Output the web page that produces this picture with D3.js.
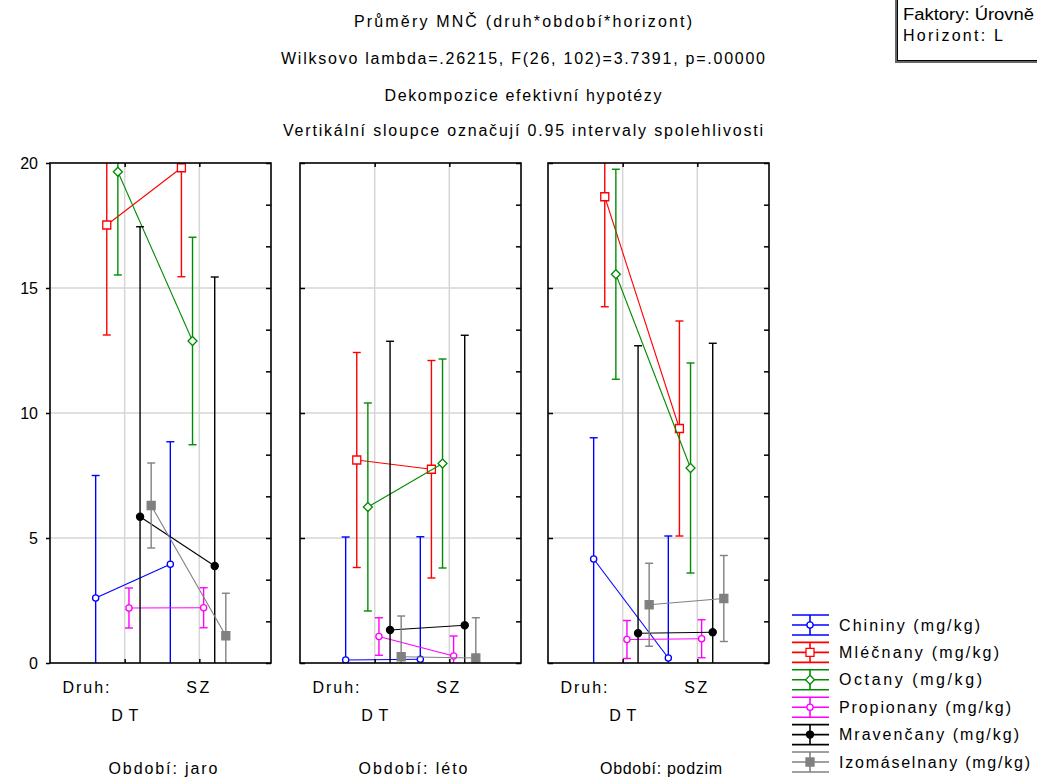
<!DOCTYPE html>
<html><head><meta charset="utf-8">
<script src="https://cdn.jsdelivr.net/npm/d3@7"></script>
<style>
body{margin:0;background:#fff}
svg{display:block}
text{font-family:"Liberation Sans",Arial,sans-serif;fill:#000;font-size:16px}
</style>
</head><body><svg id="c" width="1037" height="778"></svg>
<script>
// ---------- data ----------
const periods = ["jaro", "léto", "podzim"];
const periodLabels = ["Období: jaro", "Období: léto", "Období: podzim"];
const categories = ["DT", "SZ"];
const seriesNames = ["Chininy (mg/kg)", "Mléčnany (mg/kg)", "Octany (mg/kg)", "Propionany (mg/kg)", "Mravenčany (mg/kg)", "Izomáselnany (mg/kg)"];
// means [period][category]
const chininyMean      = [[2.60, 3.95], [0.12, 0.15], [4.16, 0.20]];
const mlecnanyMean     = [[17.52, 19.81], [8.12, 7.75], [18.65, 9.38]];
const octanyMean       = [[19.65, 12.88], [6.24, 7.98], [15.55, 7.80]];
const propionanyMean   = [[2.20, 2.21], [1.06, 0.28], [0.94, 0.97]];
const mravencanyMean   = [[5.85, 3.88], [1.32, 1.51], [1.19, 1.23]];
const izomaselnanyMean = [[6.30, 1.09], [0.25, 0.20], [2.33, 2.58]];
// 0.95 CI half-widths [period][category]
const chininyCI      = [[4.90, 4.90], [4.92, 4.90], [4.85, 4.88]];
const mlecnanyCI     = [[4.40, 4.36], [4.30, 4.35], [4.40, 4.30]];
const octanyCI       = [[4.13, 4.15], [4.16, 4.18], [4.20, 4.20]];
const propionanyCI   = [[0.80, 0.80], [0.75, 0.80], [0.76, 0.76]];
const mravencanyCI   = [[11.60, 11.56], [11.55, 11.60], [11.50, 11.56]];
const izomaselnanyCI = [[1.70, 1.70], [1.63, 1.61], [1.66, 1.72]];
const yTicks = [0, 5, 10, 15, 20];
const titleLines = [
  "Průměry MNČ (druh*období*horizont)",
  "Wilksovo lambda=.26215, F(26, 102)=3.7391, p=.00000",
  "Dekompozice efektivní hypotézy",
  "Vertikální sloupce označují 0.95 intervaly spolehlivosti"
];
const boxLines = ["Faktory: Úrovně", "Horizont: L"];
const factorLabel = "Druh:";

// ---------- styles ----------
const seriesStyle = [
  {color: "#0000ff", marker: "circle", fill: "#fff"},
  {color: "#ff0000", marker: "square", fill: "#fff"},
  {color: "#008c00", marker: "diamond", fill: "#fff"},
  {color: "#ff00ff", marker: "circle", fill: "#fff"},
  {color: "#000000", marker: "circleBig", fill: "#000"},
  {color: "#808080", marker: "squareBig", fill: "#808080"}
];
const means = [chininyMean, mlecnanyMean, octanyMean, propionanyMean, mravencanyMean, izomaselnanyMean];
const cis = [chininyCI, mlecnanyCI, octanyCI, propionanyCI, mravencanyCI, izomaselnanyCI];

function markerPath(type) {
  switch (type) {
    case "circle": return d3.symbol(d3.symbolCircle, 30)();
    case "circleBig": return d3.symbol(d3.symbolCircle, 40)();
    case "square": return "M-4,-4H4V4H-4Z";
    case "squareBig": return "M-4,-4H4V4H-4Z";
    case "diamond": return "M0,-4.5L4.5,0L0,4.5L-4.5,0Z";
  }
}

const svg = d3.select("#c");
const y = d3.scaleLinear().domain([0, 20]).range([663, 163]);
const panelLeft = [50, 300, 548];
const panelW = 221;
const dodge = d3.scalePoint().domain(seriesNames).range([-29, 26.5]);
const rightTicks = d3.range(0, 13).map(k => k * 20 / 12);

// ---------- titles ----------
const titleY = [21, 58, 95, 130];
const titleLen = [338, 484, 277, 480];
titleLines.forEach((t, i) => {
  svg.append("text").attr("x", 523).attr("y", titleY[i])
    .attr("text-anchor", "middle").attr("dominant-baseline", "central")
    .attr("textLength", titleLen[i]).attr("lengthAdjust", "spacing").text(t);
});

// ---------- top-right box ----------
svg.append("rect").attr("x", 895).attr("y", -3).attr("width", 160).attr("height", 66).attr("fill", "#666");
svg.append("rect").attr("x", 897.5).attr("y", -5).attr("width", 160).attr("height", 65.5)
  .attr("fill", "#fff").attr("stroke", "#000").attr("stroke-width", 1);
svg.append("text").attr("x", 903).attr("y", 14).attr("dominant-baseline", "central")
  .attr("textLength", 131).attr("lengthAdjust", "spacingAndGlyphs").text(boxLines[0]);
svg.append("text").attr("x", 903).attr("y", 35).attr("dominant-baseline", "central")
  .attr("textLength", 100).attr("lengthAdjust", "spacing").text(boxLines[1]);

// ---------- panels ----------
periods.forEach((p, pi) => {
  const left = panelLeft[pi], right = left + panelW;
  const x = d3.scaleLinear().domain([0, 2.96]).range([left, right]);
  const g = svg.append("g");
  const clipId = "clip" + pi;
  svg.append("clipPath").attr("id", clipId).append("rect")
    .attr("x", left).attr("y", y(20)).attr("width", panelW).attr("height", y(0) - y(20));

  // grid
  g.selectAll(".hg").data(yTicks.filter(v => v > 0 && v < 20)).join("line")
    .attr("x1", left).attr("x2", right).attr("y1", d => y(d)).attr("y2", d => y(d))
    .attr("stroke", "#d6d6d6").attr("stroke-width", 1.5);
  g.selectAll(".vg").data(categories).join("line")
    .attr("x1", (d, i) => x(i + 1)).attr("x2", (d, i) => x(i + 1))
    .attr("y1", y(20)).attr("y2", y(0))
    .attr("stroke", "#d6d6d6").attr("stroke-width", 1.5);

  const plot = g.append("g").attr("clip-path", `url(#${clipId})`);
  seriesNames.forEach((s, si) => {
    const st = seriesStyle[si];
    const pts = categories.map((c, ci) => ({
      x: x(ci + 1) + dodge(s),
      m: means[si][pi][ci],
      lo: means[si][pi][ci] - cis[si][pi][ci],
      hi: means[si][pi][ci] + cis[si][pi][ci]
    }));
    const sg = plot.append("g").attr("stroke", st.color).attr("stroke-width", 1.4).attr("fill", "none");
    sg.selectAll(".eb").data(pts).join("line")
      .attr("x1", d => d.x).attr("x2", d => d.x).attr("y1", d => y(d.lo)).attr("y2", d => y(d.hi));
    sg.selectAll(".cap1").data(pts).join("line")
      .attr("x1", d => d.x - 4).attr("x2", d => d.x + 4).attr("y1", d => y(d.hi)).attr("y2", d => y(d.hi));
    sg.selectAll(".cap2").data(pts).join("line")
      .attr("x1", d => d.x - 4).attr("x2", d => d.x + 4).attr("y1", d => y(d.lo)).attr("y2", d => y(d.lo));
    sg.append("path").datum(pts)
      .attr("d", d3.line().x(d => d.x).y(d => y(d.m))).attr("stroke-width", 1.1);
    sg.selectAll(".mk").data(pts).join("path")
      .attr("transform", d => `translate(${d.x},${y(d.m)})`)
      .attr("d", markerPath(st.marker)).attr("fill", st.fill).attr("stroke-width", 1.3);
  });

  g.append("rect").attr("x", left).attr("y", y(20)).attr("width", panelW).attr("height", y(0) - y(20))
    .attr("fill", "none").attr("stroke", "#000").attr("stroke-width", 1.6);

  const styleAxis = a => {
    a.select(".domain").remove();
    a.selectAll(".tick line").attr("stroke", "#000").attr("stroke-width", 1.5);
  };
  if (pi === 0) {
    const ax = g.append("g").attr("transform", `translate(${left},0)`)
      .call(d3.axisLeft(y).tickValues(yTicks).tickSize(4).tickPadding(8).tickFormat(d3.format("d")));
    styleAxis(ax);
    ax.selectAll(".tick text").attr("font-size", 16).attr("font-family", '"Liberation Sans",Arial,sans-serif').attr("fill", "#000");
  } else {
    const ax = g.append("g").attr("transform", `translate(${left},0)`)
      .call(d3.axisRight(y).tickValues(yTicks).tickSize(5).tickFormat(""));
    styleAxis(ax);
  }
  const ar = g.append("g").attr("transform", `translate(${right},0)`)
    .call(d3.axisLeft(y).tickValues(rightTicks).tickSize(5).tickFormat(""));
  styleAxis(ar);
  const at = g.append("g").attr("transform", `translate(0,${y(20)})`)
    .call(d3.axisBottom(x).tickValues([1, 2]).tickSize(4).tickFormat(""));
  styleAxis(at);
  const ab = g.append("g").attr("transform", `translate(0,${y(0)})`)
    .call(d3.axisTop(x).tickValues([1, 2]).tickSize(4).tickFormat(""));
  styleAxis(ab);

  g.append("text").attr("x", left + 12.5).attr("y", 687).attr("dominant-baseline", "central")
    .attr("textLength", 47).attr("lengthAdjust", "spacing").text(factorLabel);
  g.append("text").attr("x", x(1)).attr("y", 715).attr("text-anchor", "middle").attr("dominant-baseline", "central")
    .attr("textLength", 27).attr("lengthAdjust", "spacing").text(categories[0]);
  g.append("text").attr("x", x(2) - 1.5).attr("y", 687).attr("text-anchor", "middle").attr("dominant-baseline", "central")
    .attr("textLength", 23).attr("lengthAdjust", "spacing").text(categories[1]);
  g.append("text").attr("x", left + 113).attr("y", 768).attr("text-anchor", "middle").attr("dominant-baseline", "central")
    .attr("textLength", pi === 2 ? 122 : 109).attr("lengthAdjust", "spacing").text(periodLabels[pi]);
});

// ---------- legend ----------
const legLen = [141, 160, 143, 172, 180, 191];
const leg = svg.append("g");
seriesNames.forEach((s, i) => {
  const st = seriesStyle[i];
  const yc = 625 + i * 27.4;
  const lg = leg.append("g").attr("stroke", st.color).attr("stroke-width", 1.6).attr("fill", "none");
  [-10, 0, 10].forEach(dy => lg.append("line").attr("x1", 792).attr("x2", 829).attr("y1", yc + dy).attr("y2", yc + dy));
  lg.append("line").attr("x1", 810).attr("x2", 810).attr("y1", yc - 10).attr("y2", yc + 10);
  lg.append("path").attr("transform", `translate(810,${yc})`).attr("d", markerPath(st.marker))
    .attr("fill", st.fill).attr("stroke-width", 1.3);
  leg.append("text").attr("x", 839).attr("y", yc).attr("dominant-baseline", "central")
    .attr("textLength", legLen[i]).attr("lengthAdjust", "spacing").text(s);
});
</script>
</body></html>
